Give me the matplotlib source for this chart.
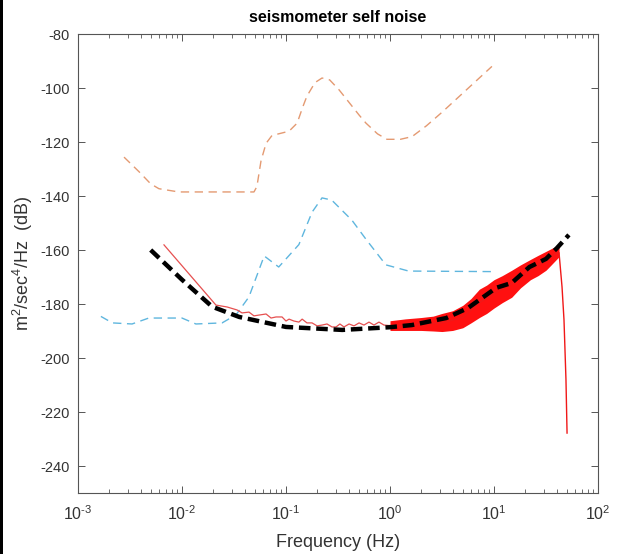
import matplotlib
matplotlib.use("Agg")
import matplotlib.pyplot as plt
from matplotlib.patches import Rectangle

# ---- data ----
nhnm_f = [0.00277, 0.00386, 0.0050, 0.0060, 0.0093, 0.0492, 0.0525, 0.0575, 0.0643, 0.0733,
          0.107, 0.128, 0.145, 0.159, 0.19, 0.222, 0.263, 0.324, 0.504, 0.587, 0.759, 0.935,
          1.26, 1.63, 2.24, 3.16, 9.55]
nhnm_db = [-125.6, -131, -135.5, -137.3, -138.5, -138.5, -136.5, -127, -120.5, -117.6,
           -116, -113, -107, -103, -98, -96.3, -97, -100.7, -110, -113, -117, -119,
           -119, -118, -114, -109, -92]

nlnm_f = [0.00166, 0.00214, 0.00331, 0.00479, 0.01, 0.0136, 0.0243, 0.0331, 0.044, 0.0617,
          0.0851, 0.133, 0.178, 0.222, 0.275, 0.431, 0.587, 0.912, 1.51, 9.55]
nlnm_db = [-184.6, -187, -187.4, -185.2, -185.2, -187.4, -187, -184, -177.4, -162.2,
           -166.3, -158, -146, -140.7, -141.5, -149, -156, -165.5, -167.8, -168]

model_f = [0.005, 0.01, 0.0195, 0.0355, 0.1, 0.347, 1.0, 1.62, 3.47, 5.62, 10.5, 14.8,
           21.9, 31.6, 39.8, 52.5]
model_db = [-160, -171, -181, -184.8, -188.5, -189.6, -188.6, -187.8, -185.2, -181.5,
            -174, -172.2, -166.3, -163.3, -159.5, -154.4]

meas_f = [0.00671, 0.0212, 0.0271, 0.0338, 0.0378, 0.0441, 0.0492, 0.0550, 0.0643, 0.0718,
          0.0802, 0.0916, 0.100, 0.107, 0.119, 0.133, 0.143, 0.159, 0.178, 0.199, 0.222,
          0.248, 0.277, 0.303, 0.330, 0.361, 0.404, 0.451, 0.504, 0.562, 0.628, 0.701,
          0.783, 0.875, 1.0]
meas_db = [-158.1, -180.4, -181.1, -182.2, -183.3, -183.0, -184.4, -184.1, -183.7, -185.2,
           -184.8, -184.8, -186.3, -185.6, -186.3, -186.7, -185.6, -187.0, -187.0, -188.1,
           -187.8, -187.4, -188.5, -188.5, -187.4, -188.5, -187.4, -188.1, -187.0, -187.8,
           -186.7, -187.8, -186.7, -187.8, -188.0]

dense_f = [1.0, 1.41, 2.0, 3.16, 5.01, 7.24, 10.0, 14.8, 22.4, 31.6, 39.8,
           42.2, 45.1, 47.1, 49.2, 50.4]
dense_db = [-188.0, -187.8, -187.5, -187.0, -185.0, -179.5,
            -176.2, -172.5, -167.2, -164.0, -161.0, -161.0, -173.7, -185.9, -208, -227.8]

band_f = [1.0, 1.41, 2.0, 2.6, 3.16, 4.0, 5.01, 6.0, 7.24, 8.5, 10.0, 12.0, 14.8, 18.0,
          22.4, 26.5, 31.6, 35.5, 39.8, 42.2]
band_lo = [-189.8, -189.8, -189.8, -190, -190.2, -189.8, -188.8, -187, -185, -183.5, -181.5,
           -179.5, -177.5, -174, -171, -169.5, -167.5, -165.5, -163.5, -162.5]
band_hi = [-186.2, -185.5, -185, -184.5, -183.5, -182.5, -180.5, -178, -174.5, -173, -171,
           -169.5, -167.5, -165.5, -163.5, -162, -160.5, -159.5, -158.5, -159]

yticks = [-240, -220, -200, -180, -160, -140, -120, -100, -80]
xticks = [1e-3, 1e-2, 1e-1, 1e0, 1e1, 1e2]
xticklabels = [r"$10^{\text{-}3}$", r"$10^{\text{-}2}$", r"$10^{\text{-}1}$",
               r"$10^{0}$", r"$10^{1}$", r"$10^{2}$"]

# ---- figure ----
plt.rcParams['font.family'] = ['Liberation Sans', 'DejaVu Sans']
plt.rcParams['mathtext.fontset'] = 'custom'
plt.rcParams['mathtext.rm'] = 'Liberation Sans'
plt.rcParams['mathtext.it'] = 'Liberation Sans'
plt.rcParams['axes.unicode_minus'] = False

fig = plt.figure(figsize=(6.19, 5.54), dpi=100)
ax = fig.add_axes([78/619, 1 - 493/554, (598 - 78)/619, (493 - 34)/554])

ax.plot(nhnm_f, nhnm_db, color='#e49a72', lw=1.0, ls=(0, (6, 4)))
ax.plot(nlnm_f, nlnm_db, color='#5fb6de', lw=1.0, ls=(0, (6, 4)))
ax.fill_between(band_f, band_lo, band_hi, color='#ff1010', lw=0)
ax.plot(meas_f, meas_db, color='#e65050', lw=0.9)
ax.plot(dense_f, dense_db, color='#f01818', lw=1.0)
ax.plot(model_f, model_db, color='black', lw=3.2, ls=(0, (2.6, 1.3)))

ax.set_xscale('log')
ax.set_xlim(1e-3, 1e2)
ax.set_ylim(-250, -80)
ax.set_xticks(xticks)
ax.set_xticklabels(xticklabels)
ax.set_yticks(yticks)

for s in ax.spines.values():
    s.set_color('#555555')
    s.set_linewidth(0.8)
ax.tick_params(which='both', direction='in', top=True, right=True, colors='#555555',
               labelcolor='#333333')
ax.tick_params(axis='y', labelsize=10.5, pad=6)
ax.tick_params(axis='x', labelsize=11.5, pad=8)
ax.tick_params(which='major', length=5, width=0.7)
ax.tick_params(which='minor', length=3, width=0.6)

ax.set_title('seismometer self noise', fontsize=11.5, fontweight='bold', pad=9)
ax.set_xlabel('Frequency (Hz)', fontsize=13, color='#333333', labelpad=8)
ax.set_ylabel(r'm$^2$/sec$^4$/Hz  (dB)', fontsize=13, color='#333333', labelpad=4)

fig.add_artist(Rectangle((0, 0), 3/619, 1, transform=fig.transFigure, color='black', lw=0))

fig.savefig('out.png', dpi=100)
